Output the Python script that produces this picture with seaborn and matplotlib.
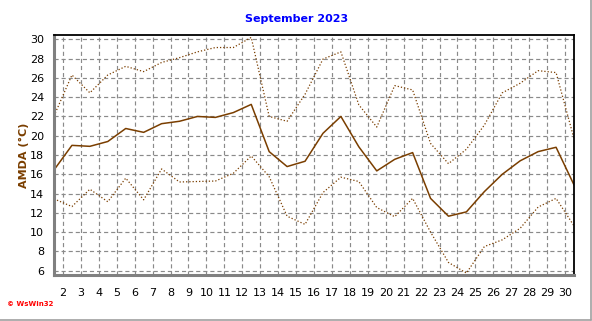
import numpy as np
import pandas as pd
import matplotlib
matplotlib.use("Agg")
import matplotlib.pyplot as plt
import seaborn as sns
from matplotlib.ticker import MultipleLocator

days = list(range(1, 31))
t_max = [22.05, 26.3, 24.45, 26.3, 27.2, 26.65, 27.6, 28.1, 28.7, 29.15,
         29.15, 30.2, 22.0, 21.5, 24.3, 27.95, 28.7, 23.2, 20.9, 25.2,
         24.75, 19.2, 17.1, 18.6, 21.1, 24.45, 25.45, 26.75, 26.55, 19.7]
t_mean = [16.45, 19.0, 18.9, 19.4, 20.75, 20.35, 21.25, 21.5, 22.0, 21.9,
          22.4, 23.25, 18.35, 16.8, 17.35, 20.25, 22.0, 18.85, 16.35, 17.55,
          18.25, 13.5, 11.65, 12.1, 14.2, 16.0, 17.4, 18.35, 18.8, 14.9]
t_min = [13.45, 12.65, 14.45, 13.15, 15.6, 13.35, 16.55, 15.2, 15.25, 15.3,
         16.1, 17.9, 15.75, 11.65, 10.8, 14.1, 15.7, 15.25, 12.55, 11.6,
         13.5, 10.0, 6.85, 5.75, 8.5, 9.2, 10.4, 12.6, 13.5, 10.65]
x_ticks = list(range(2, 31))
y_ticks = list(range(6, 31, 2))

df = pd.DataFrame({"pos": [d + 0.5 for d in days], "max": t_max,
                   "mean": t_mean, "min": t_min})

sns.set_style("white")
plt.rcParams["font.family"] = ["DejaVu Sans"]

fig = plt.figure(figsize=(5.92, 3.21), dpi=100)
ax = fig.add_axes([54 / 592, 46 / 321, 520 / 592, 240 / 321])

brown = "#7a3e00"
sns.lineplot(data=df, x="pos", y="max", ax=ax, color=brown, lw=0.9,
             linestyle=(0, (1.0, 1.6)))
sns.lineplot(data=df, x="pos", y="mean", ax=ax, color=brown, lw=1.1)
sns.lineplot(data=df, x="pos", y="min", ax=ax, color=brown, lw=0.9,
             linestyle=(0, (1.0, 1.6)))

ax.set_xlim(1.5, 30.5)
ax.set_ylim(5.55, 30.45)
ax.set_xticks(x_ticks)
ax.set_yticks(y_ticks)
ax.xaxis.set_minor_locator(MultipleLocator(0.25))
ax.yaxis.set_minor_locator(MultipleLocator(0.5))
ax.grid(True, which="major", color="#8a8a8a", linestyle=(0, (3.5, 2.5)), lw=0.85)
ax.set_axisbelow(True)

for s in ("left", "bottom"):
    ax.spines[s].set_color("#808080")
    ax.spines[s].set_linewidth(2.2)
for s in ("top", "right"):
    ax.spines[s].set_color("black")
    ax.spines[s].set_linewidth(1.3)

ax.tick_params(axis="both", which="major", direction="out", length=4,
               width=1, color="#808080", labelsize=8, labelcolor="black", pad=3)
ax.tick_params(axis="both", which="minor", direction="out", length=2,
               width=0.8, color="#808080")
ax.tick_params(axis="x", which="major", pad=5)

ax.set_xlabel("")
ax.set_ylabel("AMDA (°C)", color="#7a3e00", fontsize=8, fontweight="bold",
              labelpad=1)

fig.text(297 / 592, 1 - 19 / 321, "September 2023", color="#0000ff",
         fontsize=8, fontweight="bold", ha="center", va="center")
fig.text(7 / 592, 1 - 304 / 321, "© WsWin32", color="#ff0000",
         fontsize=5, fontweight="bold", ha="left", va="center")

# panel frame lines (right and bottom)
fig.add_artist(plt.Line2D([590.5 / 592, 590.5 / 592], [1 / 321, 1], color="#a0a0a0", lw=1.2))
fig.add_artist(plt.Line2D([0, 591 / 592], [1.5 / 321, 1.5 / 321], color="#a0a0a0", lw=1.2))

fig.savefig("out.png", dpi=100)
